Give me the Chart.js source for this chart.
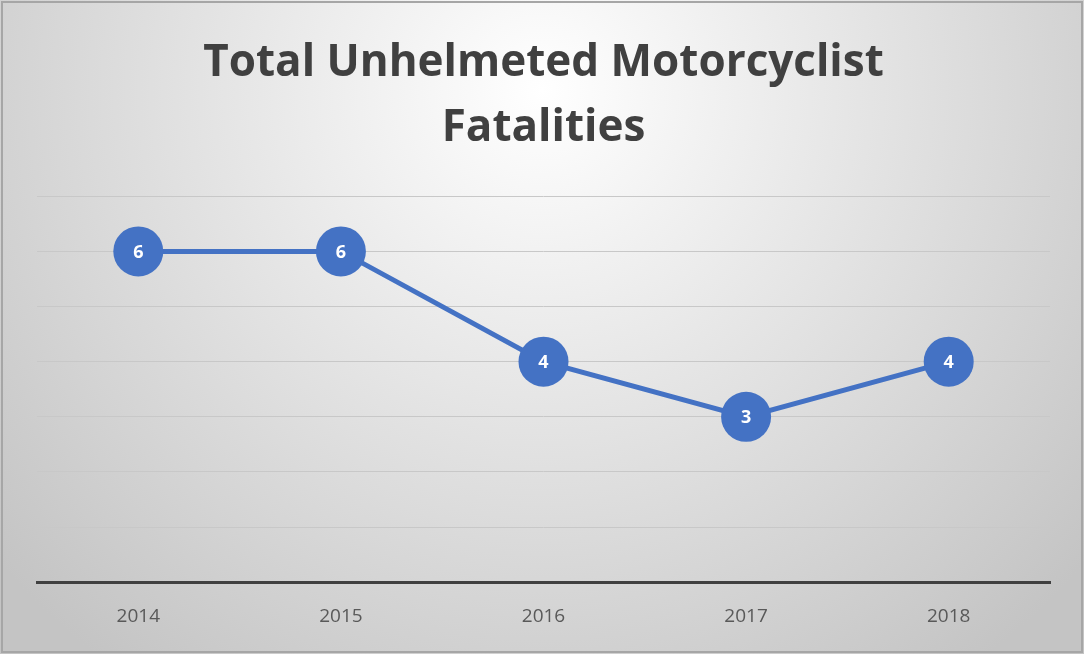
<!DOCTYPE html>
<html>
<head>
<meta charset="utf-8">
<script src="https://cdn.jsdelivr.net/npm/chart.js@4"></script>
<style>
  html, body { margin: 0; padding: 0; }
  #wrap { width: 1084px; height: 654px; }
</style>
</head>
<body>
<div id="wrap"><canvas id="chart"></canvas></div>
<script>
const years = ['2014', '2015', '2016', '2017', '2018'];
const fatalities = [6, 6, 4, 3, 4];
const titleLines = ['Total Unhelmeted Motorcyclist', 'Fatalities'];

// radial grey background and thin frame
const backdrop = {
    id: 'backdrop',
    beforeDraw(chart) {
        const ctx = chart.ctx;
        const w = chart.width, h = chart.height;
        const g = ctx.createRadialGradient(w / 2, 90, 0, w / 2, 90, 720);
        g.addColorStop(0, '#ffffff');
        g.addColorStop(1, '#c4c4c4');
        ctx.save();
        ctx.fillStyle = g;
        ctx.fillRect(0, 0, w, h);
        ctx.strokeStyle = '#a6a6a6';
        ctx.lineWidth = 2;
        ctx.strokeRect(2, 2, w - 4, h - 4);
        ctx.restore();
    }
};

// white numbers inside the markers
const pointLabels = {
    id: 'pointLabels',
    afterDatasetsDraw(chart) {
        const ctx = chart.ctx;
        const meta = chart.getDatasetMeta(0);
        ctx.save();
        ctx.fillStyle = '#ffffff';
        ctx.font = 'bold 18px "Open Sans"';
        ctx.textAlign = 'center';
        ctx.textBaseline = 'middle';
        meta.data.forEach((pt, i) => {
            ctx.fillText(String(fatalities[i]), pt.x, pt.y + 1);
        });
        ctx.restore();
    }
};

const ctx = document.getElementById('chart').getContext('2d');
new Chart(ctx, {
    type: 'line',
    data: {
        labels: years,
        datasets: [{
            data: fatalities,
            borderColor: '#4472C4',
            backgroundColor: '#4472C4',
            borderWidth: 5,
            pointRadius: 25,
            pointHoverRadius: 25,
            pointBorderWidth: 0,
            tension: 0
        }]
    },
    options: {
        responsive: true,
        maintainAspectRatio: false,
        animation: false,
        events: [],
        layout: {
            padding: { left: 37, right: 34, top: 0, bottom: 11 }
        },
        plugins: {
            legend: { display: false },
            tooltip: { enabled: false },
            title: {
                display: true,
                text: titleLines,
                color: '#404040',
                font: { family: '"Open Sans"', size: 44, weight: 'bold', lineHeight: 1.48 },
                padding: { top: 31, bottom: 35 }
            }
        },
        scales: {
            x: {
                offset: true,
                grid: { display: false },
                border: { display: true, color: '#404040', width: 3 },
                ticks: {
                    color: '#595959',
                    font: { family: '"Open Sans"', size: 19 },
                    padding: 15
                }
            },
            y: {
                min: 0,
                max: 7,
                ticks: { display: false, stepSize: 1 },
                border: { display: false },
                grid: {
                    color: '#c8c8c8',
                    lineWidth: 1,
                    drawTicks: false
                }
            }
        }
    },
    plugins: [backdrop, pointLabels]
});
</script>
</body>
</html>
